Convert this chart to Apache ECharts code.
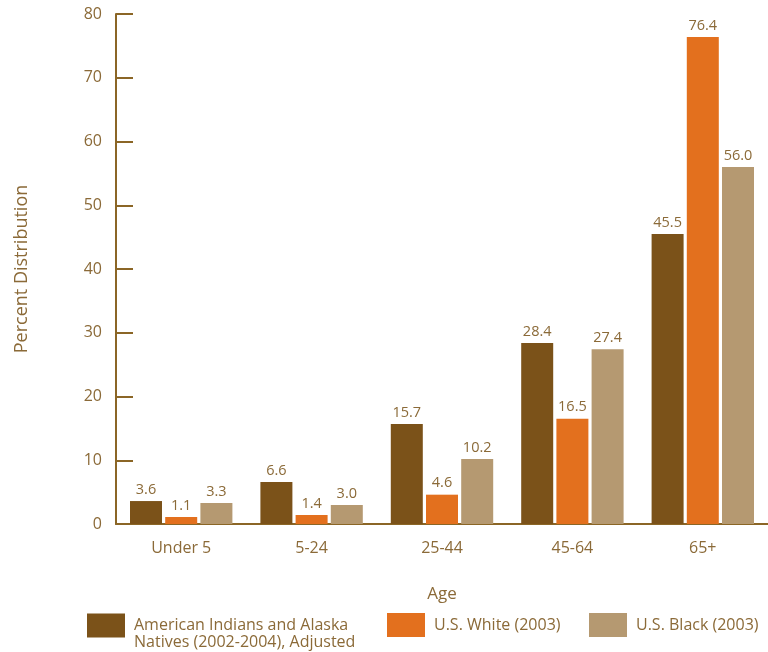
<!DOCTYPE html>
<html><head><meta charset="utf-8">
<script src="https://cdn.jsdelivr.net/npm/echarts@6/dist/echarts.min.js"></script>
<style>html,body{margin:0;padding:0;background:#fff}#c{width:768px;height:652px}</style>
</head><body><div id="c"></div>
<script>
var categories = ['Under 5', '5-24', '25-44', '45-64', '65+'];
var seriesNames = ['American Indians and Alaska\nNatives (2002-2004), Adjusted', 'U.S. White (2003)', 'U.S. Black (2003)'];
var aian = [3.6, 6.6, 15.7, 28.4, 45.5];
var usWhite = [1.1, 1.4, 4.6, 16.5, 76.4];
var usBlack = [3.3, 3.0, 10.2, 27.4, 56.0];
var yTicks = [0, 10, 20, 30, 40, 50, 60, 70, 80];

var textColor = '#8B6A38';
var axisColor = '#8B6626';
var colors = ['#7B5219', '#E3701E', '#B59971'];
var font = 'Open Sans';

function mk(name, data, i) {
  return {
    name: name, type: 'bar', data: data, barWidth: 32, barGap: '10%',
    itemStyle: { color: colors[i] },
    label: { show: true, position: 'top', distance: 4, color: textColor, fontFamily: font, fontSize: 14.5,
      formatter: function (p) { return p.value.toFixed(1); } }
  };
}

function lg(i, left, top, multi) {
  var o = {
    top: top, left: left, padding: 0, itemWidth: 38, itemHeight: 24, icon: 'rect',
    textStyle: { color: textColor, fontFamily: font, fontSize: 16, lineHeight: 17, padding: [0, 0, 0, 4] },
    data: [seriesNames[i]]
  };
  if (multi) o.formatter = function (n) { return '\n' + n; };
  return o;
}

var chart = echarts.init(document.getElementById('c'), null, { renderer: 'canvas' });
chart.setOption({
  animation: false,
  textStyle: { fontFamily: font },
  grid: { left: 116, right: -2, top: 14, bottom: 128, containLabel: false },
  legend: [lg(0, 87, 600, true), lg(1, 387, 613, false), lg(2, 589, 613, false)],
  xAxis: {
    type: 'category', data: categories,
    name: 'Age', nameLocation: 'middle', nameGap: 62,
    nameTextStyle: { color: textColor, fontSize: 17, fontFamily: font },
    axisLine: { lineStyle: { color: axisColor, width: 2 } },
    axisTick: { show: false },
    axisLabel: { color: textColor, fontSize: 16, fontFamily: font, margin: 16 }
  },
  yAxis: {
    type: 'value', min: yTicks[0], max: yTicks[yTicks.length - 1], interval: 10,
    name: 'Percent Distribution', nameLocation: 'middle', nameGap: 85,
    nameTextStyle: { color: textColor, fontSize: 18, fontFamily: font },
    axisLine: { show: true, lineStyle: { color: axisColor, width: 2 } },
    axisTick: { show: true, inside: true, length: 17, lineStyle: { color: axisColor, width: 2 } },
    axisLabel: { color: textColor, fontSize: 16, fontFamily: font, margin: 14 },
    splitLine: { show: false }
  },
  series: [mk(seriesNames[0], aian, 0), mk(seriesNames[1], usWhite, 1), mk(seriesNames[2], usBlack, 2)]
});
</script></body></html>
